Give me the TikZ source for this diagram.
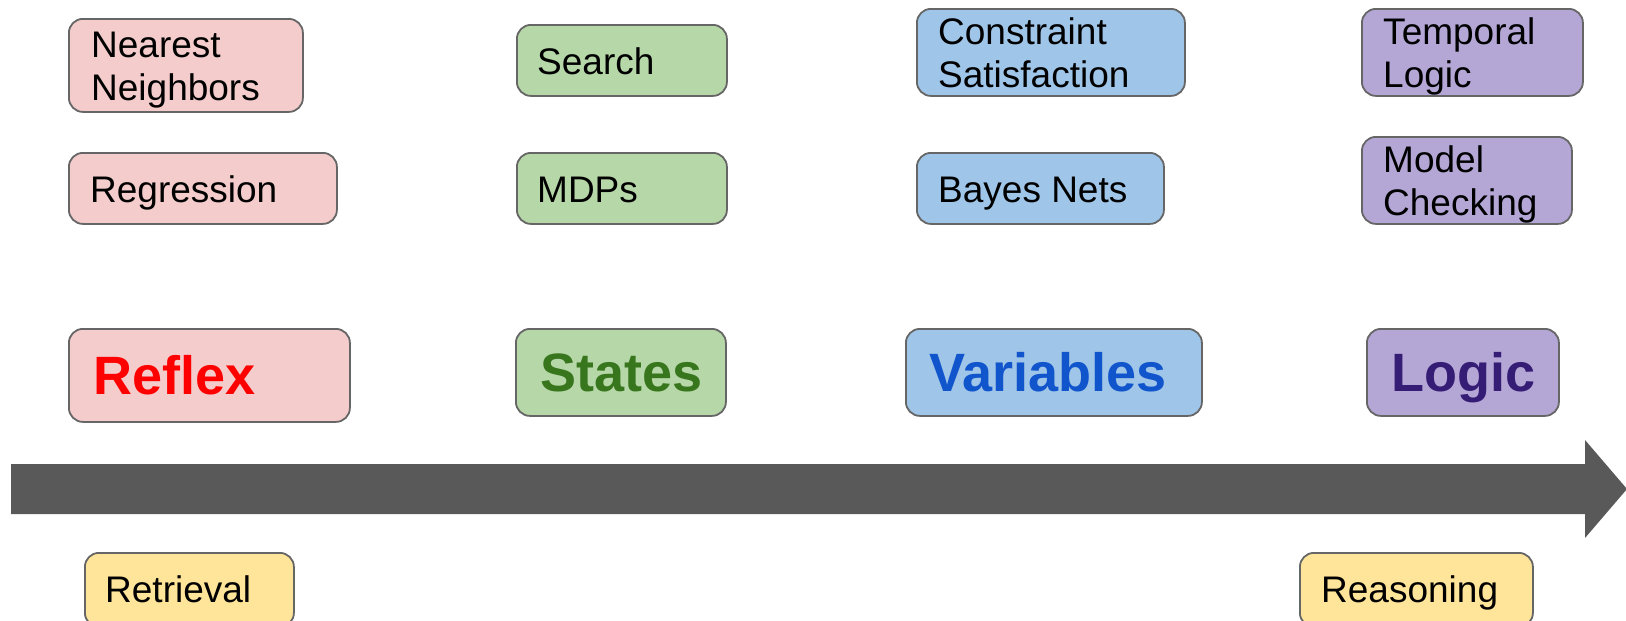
\documentclass[tikz,border=0pt]{standalone}
\usepackage{fontspec}
\setmainfont{Liberation Sans}
\definecolor{reflexfill}{HTML}{F4CCCC}
\definecolor{statesfill}{HTML}{B6D7A8}
\definecolor{varsfill}{HTML}{9FC5E8}
\definecolor{logicfill}{HTML}{B4A7D6}
\definecolor{taskfill}{HTML}{FFE599}
\definecolor{edgegray}{HTML}{666666}
\definecolor{arrowgray}{HTML}{595959}
\definecolor{reflexink}{HTML}{FF0000}
\definecolor{statesink}{HTML}{38761D}
\definecolor{varsink}{HTML}{1155CC}
\definecolor{logicink}{HTML}{351C75}
\tikzset{
  box/.style={draw=edgegray, line width=1.8pt, rounded corners=14pt,
    inner sep=0pt, anchor=north west},
  % anchored on the baseline of the last line
  item/.style={anchor=base west, inner sep=0pt, align=left,
    font=\fontsize{37}{43}\selectfont},
  head/.style={anchor=base west, inner sep=0pt,
    font=\fontsize{54}{60}\selectfont\bfseries},
}
% box with fill, top-left corner and size
\newcommand\panel[6]{%
  \node[box, fill=#2, minimum width=#5pt, minimum height=#6pt] (#1) at (#3,#4) {};}
\begin{document}
\begin{tikzpicture}[x=1pt, y=-1pt]
\useasboundingbox (0,0) rectangle (1626,621);

% timeline arrow
\fill[arrowgray] (11,464) -- (1585,464) -- (1585,440) -- (1627,489)
  -- (1585,538) -- (1585,514) -- (11,514) -- cycle;

% reflex column
\panel{nn}{reflexfill}{68}{18}{234}{93}
\node[item] (nn-t) at (91,100) {Nearest\\Neighbors};
\panel{reg}{reflexfill}{68}{152}{268}{71}
\node[item] (reg-t) at (90,202) {Regression};
\panel{reflex}{reflexfill}{68}{328}{281}{93}
\node[head, text=reflexink] (reflex-t) at (93,394) {Reflex};

% states column
\panel{search}{statesfill}{516}{24}{210}{71}
\node[item] (search-t) at (537,74) {Search};
\panel{mdp}{statesfill}{516}{152}{210}{71}
\node[item] (mdp-t) at (537,202) {MDPs};
\panel{states}{statesfill}{515}{328}{210}{87}
\node[head, text=statesink] (states-t) at (540,391) {States};

% variables column
\panel{csp}{varsfill}{916}{8}{268}{87}
\node[item] (csp-t) at (938,87) {Constraint\\Satisfaction};
\panel{bayes}{varsfill}{916}{152}{247}{71}
\node[item] (bayes-t) at (938,202) {Bayes Nets};
\panel{vars}{varsfill}{905}{328}{296}{87}
\node[head, text=varsink] (vars-t) at (929,391) {Variables};

% logic column
\panel{temporal}{logicfill}{1361}{8}{221}{87}
\node[item] (temporal-t) at (1383,87) {Temporal\\Logic};
\panel{model}{logicfill}{1361}{136}{210}{87}
\node[item] (model-t) at (1383,215) {Model\\Checking};
\panel{logic}{logicfill}{1366}{328}{192}{87}
\node[head, text=logicink] (logic-t) at (1391,391) {Logic};

% tasks below the timeline
\panel{retrieval}{taskfill}{84}{552}{209}{74}
\node[item] (retrieval-t) at (105,602) {Retrieval};
\panel{reasoning}{taskfill}{1299}{552}{233}{74}
\node[item] (reasoning-t) at (1321,602) {Reasoning};
\end{tikzpicture}
\end{document}
